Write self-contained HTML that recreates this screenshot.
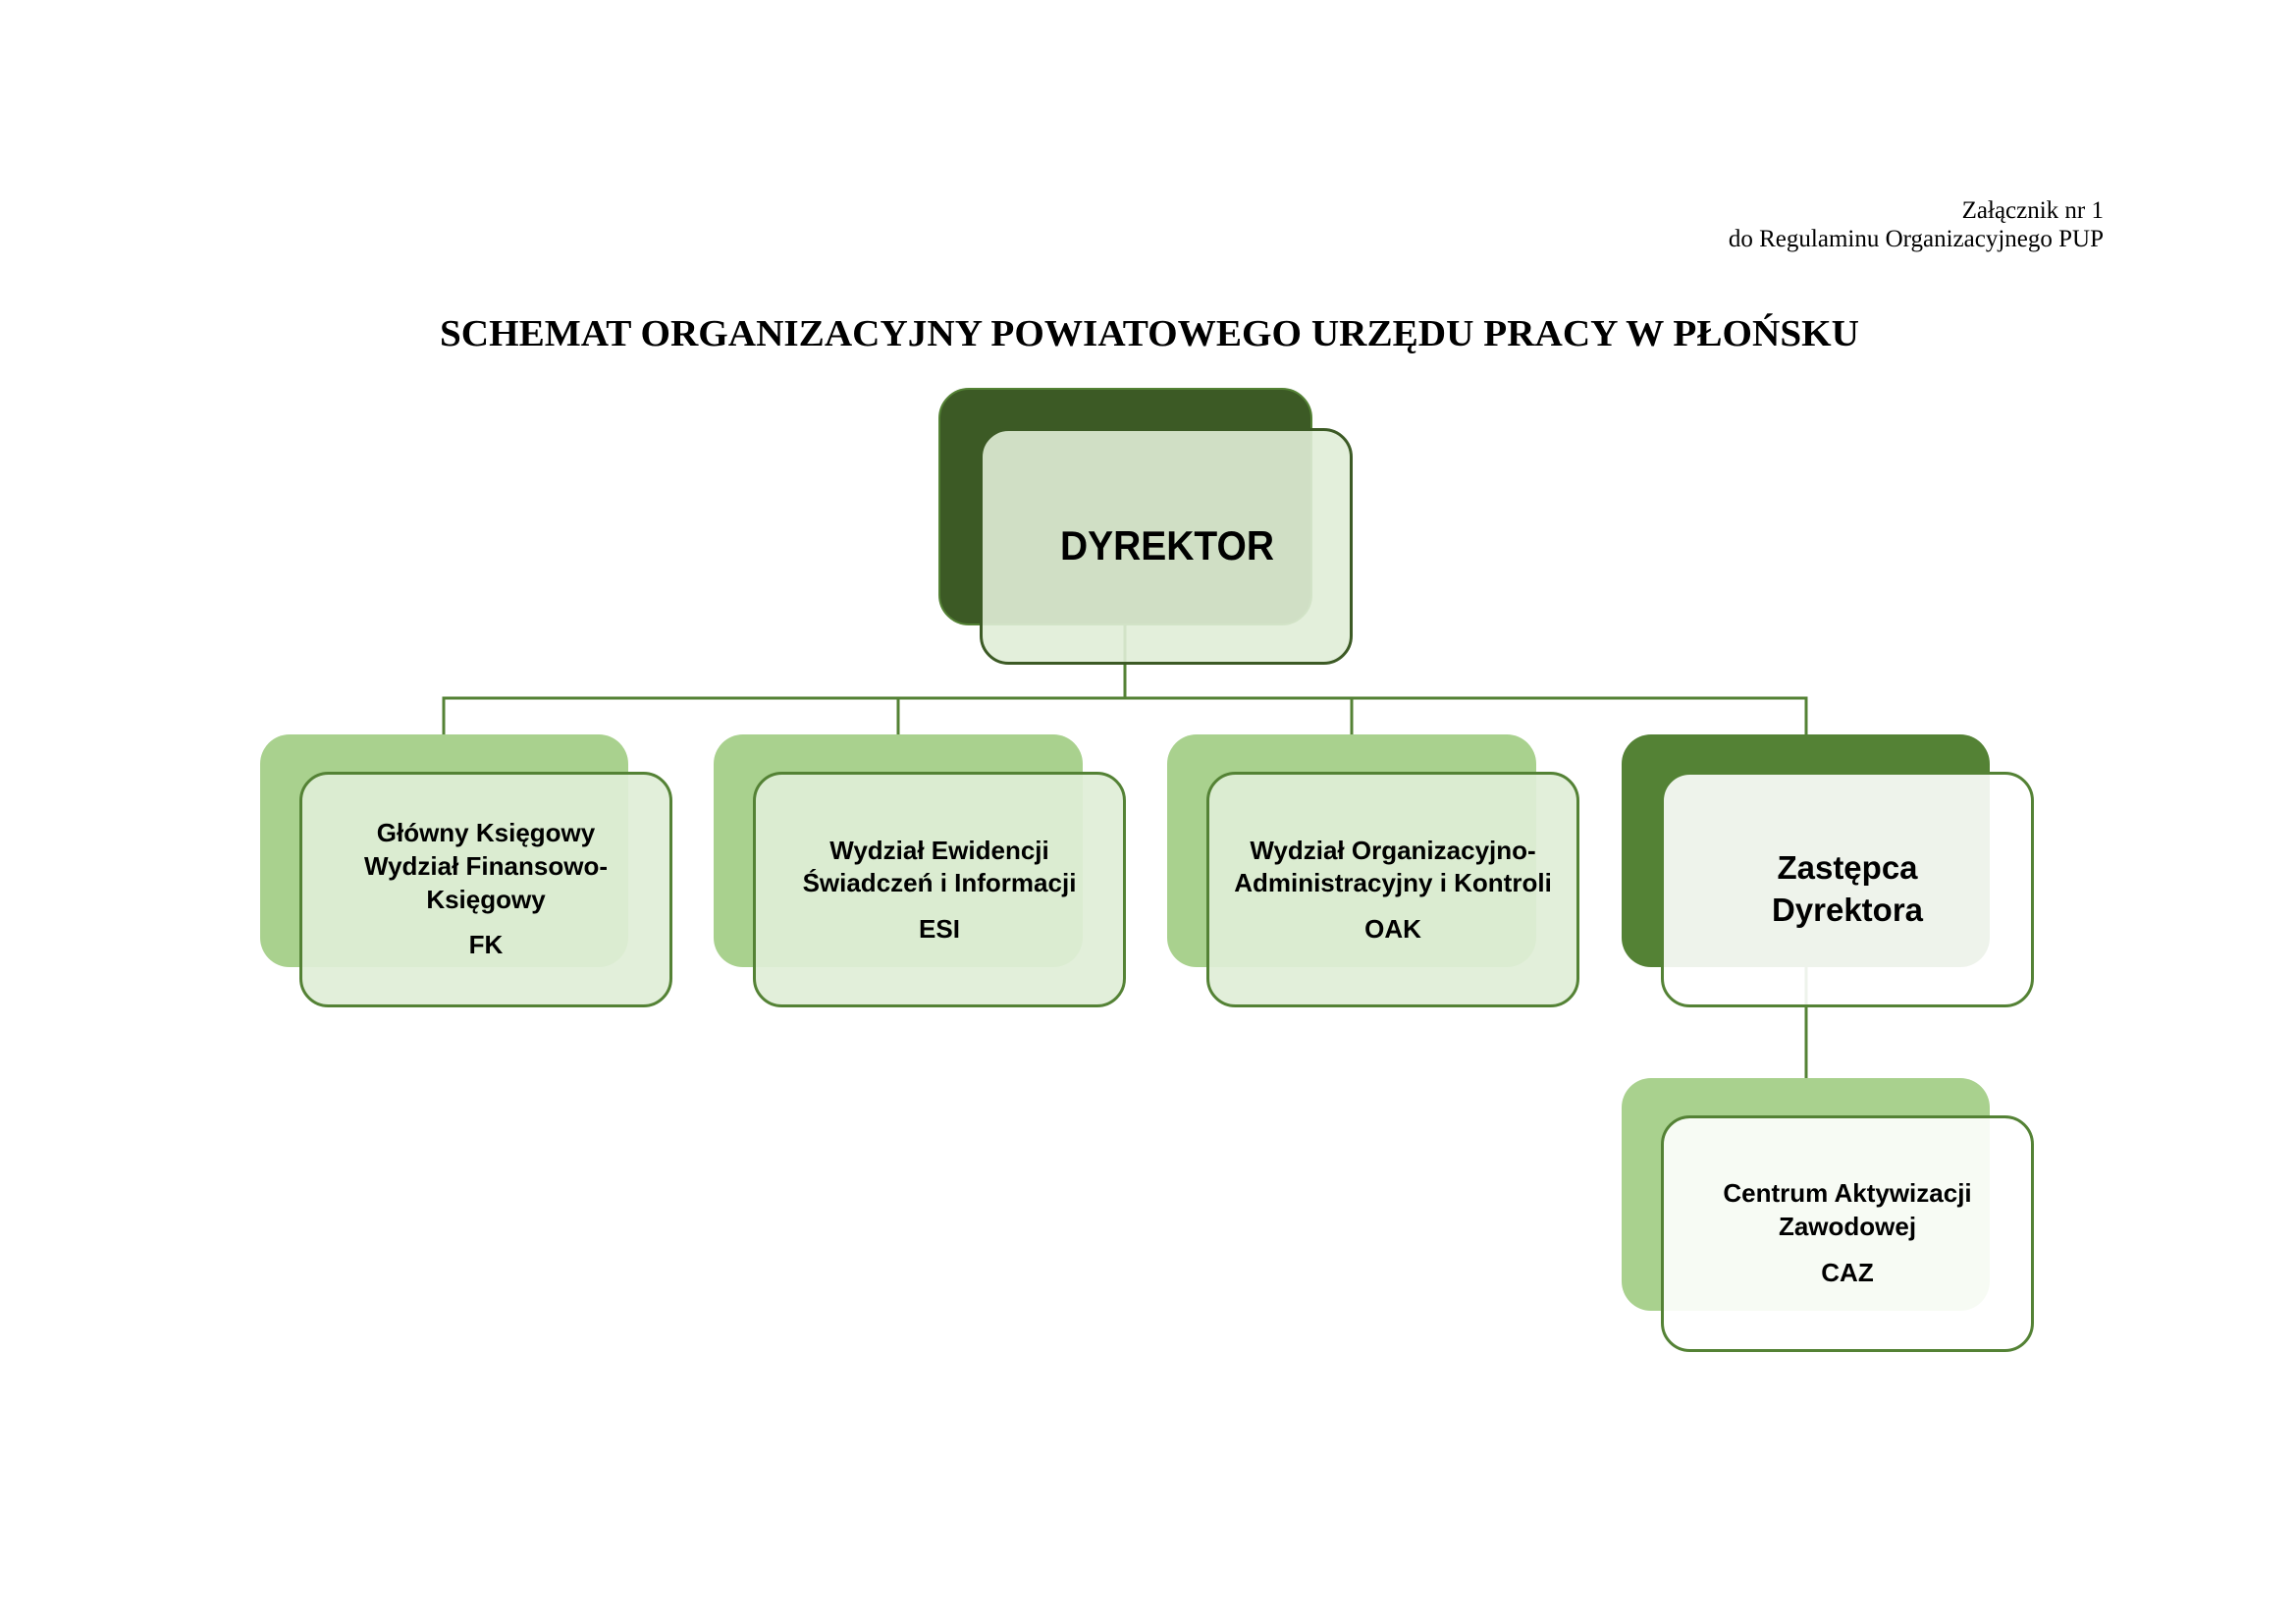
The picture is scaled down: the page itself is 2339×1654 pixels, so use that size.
<!DOCTYPE html>
<html>
<head>
<meta charset="utf-8">
<style>
  html, body { margin: 0; padding: 0; background: #ffffff; }
  svg { display: block; }
  .t { font-family: "Liberation Sans", "DejaVu Sans", sans-serif; font-weight: bold; fill: #000; }
  .s { font-family: "Liberation Serif", "DejaVu Serif", serif; fill: #000; }
</style>
</head>
<body>
<svg xmlns="http://www.w3.org/2000/svg" width="2339" height="1654" viewBox="0 0 2339 1654">
  <rect x="0" y="0" width="2339" height="1654" fill="#ffffff"/>

  <!-- Header -->
  <text class="s" x="2143" y="222" font-size="25" text-anchor="end">Załącznik nr 1</text>
  <text class="s" x="2143" y="251" font-size="25" text-anchor="end">do Regulaminu Organizacyjnego PUP</text>

  <!-- Title -->
  <text class="s" x="448" y="352" font-size="38" font-weight="bold" textLength="1446" lengthAdjust="spacingAndGlyphs">SCHEMAT ORGANIZACYJNY POWIATOWEGO URZĘDU PRACY W PŁOŃSKU</text>

  <!-- Connectors -->
  <g stroke="#548235" stroke-width="3" fill="none">
    <line x1="1146" y1="630" x2="1146" y2="711"/>
    <line x1="450.5" y1="711" x2="1841.5" y2="711"/>
    <line x1="452" y1="711" x2="452" y2="749"/>
    <line x1="915" y1="711" x2="915" y2="749"/>
    <line x1="1377" y1="711" x2="1377" y2="749"/>
    <line x1="1840" y1="711" x2="1840" y2="749"/>
    <line x1="1840" y1="980" x2="1840" y2="1099"/>
  </g>

  <!-- DYREKTOR -->
  <rect x="957" y="396" width="379" height="240" rx="30" ry="30" fill="#3c5a25" stroke="#548235" stroke-width="2"/>
  <rect x="999.5" y="437.5" width="377" height="238" rx="28" ry="28" fill="rgb(224,237,215)" fill-opacity="0.9" stroke="#3c5a25" stroke-width="3"/>
  <text class="t" x="1189" y="570" font-size="42" text-anchor="middle" textLength="218" lengthAdjust="spacingAndGlyphs">DYREKTOR</text>

  <!-- FK -->
  <rect x="265" y="748" width="375" height="237" rx="30" ry="30" fill="#a9d18e"/>
  <rect x="306.5" y="787.5" width="377" height="237" rx="28" ry="28" fill="rgb(224,238,215)" fill-opacity="0.92" stroke="#548235" stroke-width="3"/>
  <text class="t" x="495" y="857" font-size="26" text-anchor="middle">Główny Księgowy</text>
  <text class="t" x="495" y="891" font-size="26" text-anchor="middle">Wydział Finansowo-</text>
  <text class="t" x="495" y="925" font-size="26" text-anchor="middle">Księgowy</text>
  <text class="t" x="495" y="971" font-size="26" text-anchor="middle">FK</text>

  <!-- ESI -->
  <rect x="727" y="748" width="376" height="237" rx="30" ry="30" fill="#a9d18e"/>
  <rect x="768.5" y="787.5" width="377" height="237" rx="28" ry="28" fill="rgb(224,238,215)" fill-opacity="0.92" stroke="#548235" stroke-width="3"/>
  <text class="t" x="957" y="875" font-size="26" text-anchor="middle">Wydział Ewidencji</text>
  <text class="t" x="957" y="908" font-size="26" text-anchor="middle">Świadczeń i Informacji</text>
  <text class="t" x="957" y="955" font-size="26" text-anchor="middle">ESI</text>

  <!-- OAK -->
  <rect x="1189" y="748" width="376" height="237" rx="30" ry="30" fill="#a9d18e"/>
  <rect x="1230.5" y="787.5" width="377" height="237" rx="28" ry="28" fill="rgb(224,238,215)" fill-opacity="0.92" stroke="#548235" stroke-width="3"/>
  <text class="t" x="1419" y="875" font-size="26" text-anchor="middle">Wydział Organizacyjno-</text>
  <text class="t" x="1419" y="908" font-size="26" text-anchor="middle">Administracyjny i Kontroli</text>
  <text class="t" x="1419" y="955" font-size="26" text-anchor="middle">OAK</text>

  <!-- Zastępca Dyrektora -->
  <rect x="1652" y="748" width="375" height="237" rx="30" ry="30" fill="#548235"/>
  <rect x="1693.5" y="787.5" width="377" height="237" rx="28" ry="28" fill="#ffffff" fill-opacity="0.9" stroke="#548235" stroke-width="3"/>
  <text class="t" x="1882" y="895" font-size="33" text-anchor="middle">Zastępca</text>
  <text class="t" x="1882" y="938" font-size="33" text-anchor="middle">Dyrektora</text>

  <!-- CAZ -->
  <rect x="1652" y="1098" width="375" height="237" rx="30" ry="30" fill="#a9d18e"/>
  <rect x="1693.5" y="1137.5" width="377" height="238" rx="28" ry="28" fill="#ffffff" fill-opacity="0.9" stroke="#548235" stroke-width="3"/>
  <text class="t" x="1882" y="1224" font-size="26" text-anchor="middle">Centrum Aktywizacji</text>
  <text class="t" x="1882" y="1258" font-size="26" text-anchor="middle">Zawodowej</text>
  <text class="t" x="1882" y="1305" font-size="26" text-anchor="middle">CAZ</text>
</svg>
</body>
</html>
